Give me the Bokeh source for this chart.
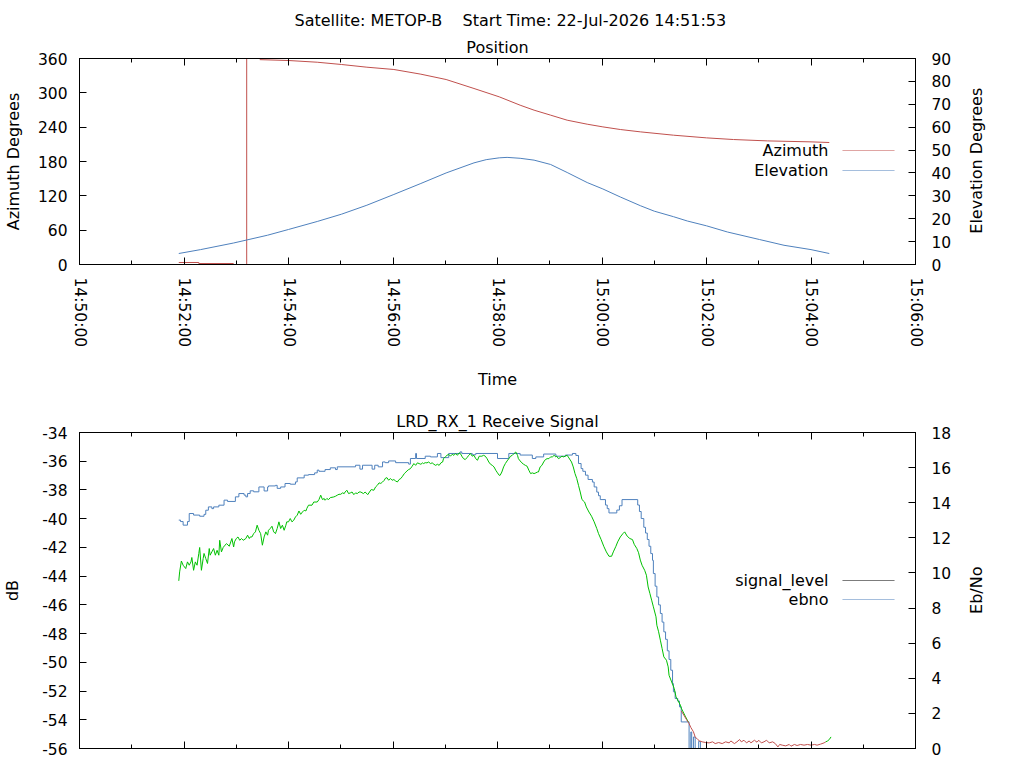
import math
import numpy as np
from bokeh.plotting import figure
from bokeh.layouts import column, row
from bokeh.models import Range1d, LinearAxis, FixedTicker, Title, Label, BoxAnnotation
from bokeh.embed import file_html
from bokeh.resources import INLINE

FONT = "DejaVu Sans"
RED = "#c0504d"
BLUE = "#4f81bd"
GREEN = "#00c000"

# non-breaking spaces keep the wide gap of the original title
main_title = "Satellite: METOP-B\u00a0\u00a0\u00a0\u00a0Start Time: 22-Jul-2026 14:51:53"

# x axis is seconds after 14:50:00
time_ticks = [0, 120, 240, 360, 480, 600, 720, 840, 960]
time_labels = ["14:50:00", "14:52:00", "14:54:00", "14:56:00", "14:58:00",
               "15:00:00", "15:02:00", "15:04:00", "15:06:00"]
time_minor = [60, 180, 300, 420, 540, 660, 780, 900]

az_ticks = [0, 60, 120, 180, 240, 300, 360]
el_ticks = [0, 10, 20, 30, 40, 50, 60, 70, 80, 90]
db_ticks = [-56, -54, -52, -50, -48, -46, -44, -42, -40, -38, -36, -34]
db_labels = ["-56", "-54", "-52", "-50", "-48", "-46", "-44", "-42", "-40",
             "-38", "-36", "-34"]
ebno_ticks = [0, 2, 4, 6, 8, 10, 12, 14, 16, 18]

nan = float("nan")

# position panel
az_t = [114, 137, 137, 177, nan, 192, 192, nan, 207, 240, 273, 301, 330, 361,
        392, 421, 453, 482, 506, 522, 541, 560, 583, 601, 621, 644, 682, 720,
        751, 790, 840, 861]
az_deg = [3.5, 3.5, 1.7, 1.7, nan, 0, 360, nan, 358, 356.5, 353.5, 349.5, 344.8,
          340.8, 332.6, 323.3, 307.6, 293, 278.4, 269.7, 261, 252.2, 245.2, 240.5,
          235.9, 231.8, 226, 221.3, 218.4, 216, 214.3, 213.2]

el_t = [114, 139, 177, 216, 240, 273, 301, 330, 361, 392, 421, 453, 467, 482,
        491, 506, 522, 541, 560, 583, 601, 621, 644, 660, 682, 698, 720, 744,
        781, 809, 840, 861]
el_deg = [4.8, 6.5, 9.4, 12.8, 15.3, 18.8, 22.0, 25.9, 30.6, 35.4, 40.0, 44.4,
          45.8, 46.6, 46.8, 46.4, 45.6, 43.7, 40.2, 35.8, 33.0, 29.5, 25.7, 23.3,
          20.9, 19.0, 16.9, 14.2, 10.9, 8.4, 6.5, 4.8]

# receive signal panel
sig_t = [114, 116, 119, 124, 126, 131, 138, 143, 145, 148, 152, 154, 160, 166,
         170, 179, 183, 189, 191, 193, 196, 200, 206, 212, 216, 217, 225, 227,
         231, 236, 242, 248, 250, 258, 263, 270, 273, 275, 282, 288, 294, 296,
         317, 322, 325, 336, 339, 343, 348, 351, 355, 363, 378, 380, 386, 387,
         397, 403, 411, 415, 424, 437, 439, 451, 455, 480, 493, 506, 520, 524,
         533, 547, 558, 566, 570, 573, 576, 578, 581, 584, 589, 591, 594, 596,
         598, 604, 606, 608, 617, 620, 623, 641, 643, 645, 648, 650, 652, 654,
         656, 658, 659, 661, 663, 665, 667, 669, 671, 673, 675, 677, 679, 681,
         682, 684, 687, 689, 691, 700, 702, 703, 705, 707, 711, 713]
sig_db = [-40.1, -40.2, -40.45, -40.2, -39.64, -39.75, -39.83, -39.7, -39.41,
          -39.18, -39.3, -39.18, -39.06, -38.71, -38.8, -38.48, -38.25, -38.36,
          -38.48, -38.25, -38.06, -38.13, -37.79, -38.07, -37.79, -37.72, -37.68,
          -37.89, -37.79, -37.55, -37.6, -37.44, -37.16, -36.97, -36.93, -36.81,
          -36.62, -36.7, -36.58, -36.46, -36.58, -36.39, -36.28, -36.55, -36.28,
          -36.55, -36.28, -36.39, -36.05, -36.1, -35.98, -36.1, -36.2, -35.81,
          -35.46, -35.81, -35.65, -35.7, -35.46, -35.75, -35.46, -35.35, -35.46,
          -35.55, -35.46, -35.81, -35.46, -35.57, -35.81, -35.7, -35.5, -35.65,
          -35.57, -35.46, -35.6, -36.16, -36.51, -36.7, -36.97, -37.27, -37.45,
          -37.79, -38.15, -38.4, -38.67, -39.05, -39.3, -39.6, -39.4, -39.1,
          -38.67, -39.05, -39.5, -39.99, -40.6, -41.0, -41.45, -41.92, -42.43,
          -42.9, -43.82, -44.7, -45.45, -46.0, -46.6, -47.2, -47.88, -48.4,
          -49.2, -49.8, -50.55, -51.48, -52.05, -52.52, -52.7, -53.1, -54.15,
          -58, -54.85, -58, -55.2, -58, -55.5, -58]

ebno_t = [114, 115, 117, 119, 122, 124, 126, 128, 129, 131, 133, 135, 137, 138,
          140, 142, 143, 145, 147, 149, 150, 152, 154, 156, 158, 160, 161, 163,
          165, 167, 169, 172, 175, 177, 178, 180, 182, 184, 186, 188, 191, 193,
          195, 196, 198, 200, 202, 204, 206, 208, 210, 212, 214, 216, 217, 219,
          221, 223, 225, 227, 229, 231, 233, 235, 237, 238, 240, 242, 244, 246,
          248, 250, 252, 254, 256, 258, 260, 261, 263, 267, 269, 273, 275, 277,
          279, 281, 282, 284, 286, 288, 292, 294, 296, 298, 300, 302, 304, 305,
          307, 309, 311, 313, 315, 317, 319, 321, 323, 326, 328, 331, 333, 335,
          338, 340, 342, 344, 346, 348, 350, 351, 353, 355, 357, 359, 361, 363,
          365, 367, 369, 371, 373, 374, 376, 378, 380, 382, 384, 386, 388, 390,
          392, 394, 395, 397, 399, 401, 403, 405, 407, 409, 411, 413, 415, 417,
          418, 420, 422, 424, 426, 428, 430, 432, 434, 436, 438, 439, 441, 443,
          445, 447, 449, 451, 453, 455, 457, 459, 460, 462, 464, 466, 468, 470,
          472, 474, 476, 478, 480, 482, 483, 485, 487, 489, 491, 493, 495, 497,
          499, 501, 503, 504, 506, 508, 510, 512, 514, 516, 518, 520, 522, 524,
          526, 527, 529, 531, 533, 535, 537, 539, 541, 543, 545, 547, 548, 550,
          552, 554, 556, 558, 560, 562, 565, 567, 569, 571, 573, 575, 577, 580,
          582, 585, 588, 591, 594, 596, 599, 602, 605, 608, 611, 613, 616, 618,
          621, 624, 626, 629, 632, 635, 637, 640, 642, 644, 646, 649, 651, 653,
          655, 657, 659, 662, 663, 665, 667, 669, 671, 674, 676, 677, 680, 683,
          685, 687, 690, 691, 696, 699]
ebno = [9.55, 10.06, 10.68, 10.44, 10.25, 10.63, 10.44, 10.63, 10.88, 10.15,
        10.63, 10.44, 11.11, 11.45, 10.15, 10.82, 11.11, 10.82, 10.54, 11.39,
        11.01, 11.2, 11.39, 11.01, 11.29, 11.01, 11.86, 11.2, 11.45, 11.58,
        11.67, 11.52, 11.96, 11.48, 11.77, 11.96, 12.05, 11.86, 11.96, 11.86,
        11.96, 12.15, 11.96, 12.05, 12.05, 12.24, 12.34, 12.72, 12.43, 12.24,
        11.58, 12.05, 12.34, 12.15, 12.43, 12.53, 12.66, 12.34, 12.24, 12.53,
        12.91, 12.53, 12.72, 12.43, 12.72, 12.91, 12.91, 13.1, 12.91, 13.0,
        13.19, 13.29, 13.53, 13.34, 13.47, 13.57, 13.53, 13.67, 13.86, 13.86,
        14.04, 14.04, 14.18, 14.43, 14.18, 14.24, 14.14, 14.24, 14.18, 14.29,
        14.33, 14.37, 14.43, 14.48, 14.48, 14.56, 14.52, 14.61, 14.71, 14.52,
        14.56, 14.61, 14.46, 14.56, 14.52, 14.61, 14.61, 14.52, 14.61, 14.46,
        14.61, 14.75, 14.71, 14.9, 14.99, 15.13, 15.1, 15.18, 15.28, 15.38,
        15.43, 15.28, 15.38, 15.28, 15.32, 15.24, 15.18, 15.32, 15.38, 15.51,
        15.66, 15.7, 15.81, 15.89, 15.94, 16.08, 16.23, 16.13, 16.27, 16.23,
        16.19, 16.27, 16.23, 16.28, 16.27, 16.32, 16.23, 16.27, 16.19, 16.13,
        16.19, 16.13, 16.27, 16.32, 16.51, 16.61, 16.7, 16.76, 16.65, 16.76,
        16.7, 16.8, 16.7, 16.84, 16.76, 16.65, 16.51, 16.46, 16.57, 16.7, 16.8,
        16.65, 16.7, 16.51, 16.42, 16.65, 16.65, 16.65, 16.7, 16.65, 16.51,
        16.32, 16.19, 16.13, 16.04, 15.85, 15.7, 15.56, 15.56, 15.75, 16.04,
        16.23, 16.38, 16.51, 16.65, 16.7, 16.8, 16.89, 16.7, 16.51, 16.38,
        16.27, 16.19, 16.13, 16.08, 15.85, 15.66, 15.7, 15.66, 15.7, 15.75,
        15.75, 16.04, 16.13, 16.32, 16.46, 16.51, 16.51, 16.61, 16.61, 16.7,
        16.61, 16.65, 16.51, 16.57, 16.65, 16.61, 16.66, 16.7, 16.55, 16.32,
        16.04, 15.66, 15.38, 14.99, 14.61, 14.18, 14.04, 13.76, 13.47, 13.23,
        12.91, 12.53, 12.24, 11.9, 11.52, 11.2, 10.95, 10.95, 11.2, 11.52,
        11.77, 12.05, 12.24, 12.34, 12.09, 11.96, 11.9, 11.63, 11.39, 11.15,
        10.73, 10.44, 10.15, 9.87, 9.2, 8.83, 8.45, 8.07, 7.5, 7.02, 6.65,
        6.17, 5.7, 5.22, 5.03, 4.65, 4.17, 3.79, 3.41, 2.94, 2.75, 2.47, 2.3,
        1.8, 1.52]

# ebno after lock is lost (drawn red), then the last locked samples
ebno_lost_t = [691, 694, 697, 700, 702, 705, 707, 710, 712, 715, 719, 723, 727,
               730, 734, 738, 742, 746, 748, 752, 755, 758, 760, 763, 766, 769,
               771, 775, 778, 780, 783, 786, 789, 792, 796, 799, 802, 804, 807,
               811, 815, 817, 821, 824, 828, 832, 836, 840, 844, 847, 851, 855,
               857]
ebno_lost = [2.14, 1.9, 1.65, 1.42, 1.2, 0.95, 0.66, 0.51, 0.43, 0.38, 0.34,
             0.32, 0.38, 0.28, 0.34, 0.28, 0.38, 0.32, 0.43, 0.28, 0.38, 0.51,
             0.38, 0.47, 0.32, 0.43, 0.32, 0.47, 0.36, 0.47, 0.32, 0.38, 0.47,
             0.32, 0.38, 0.28, 0.09, 0.23, 0.19, 0.15, 0.23, 0.13, 0.23, 0.17,
             0.23, 0.19, 0.23, 0.19, 0.23, 0.19, 0.25, 0.32, 0.38]
ebno_tail_t = [857, 859, 861, 863]
ebno_tail = [0.38, 0.43, 0.51, 0.66]


def style_axis(ax, ticks, minor=None, label=""):
    ax.ticker = FixedTicker(ticks=ticks, minor_ticks=minor or [])
    ax.axis_label = label
    ax.axis_line_color = "black"
    ax.major_tick_line_color = "black"
    ax.major_tick_in = 7
    ax.major_tick_out = 0
    ax.minor_tick_line_color = "black" if minor else None
    ax.minor_tick_in = 4
    ax.minor_tick_out = 0
    ax.major_label_text_font = FONT
    ax.major_label_text_font_size = "15.5px"
    ax.major_label_text_color = "black"
    ax.axis_label_text_font = FONT
    ax.axis_label_text_font_size = "16px"
    ax.axis_label_text_font_style = "normal"
    ax.axis_label_text_color = "black"


def hide_labels(ax):
    ax.major_label_text_font_size = "0px"
    ax.major_label_text_color = None
    ax.major_label_standoff = 0


def make_panel(height, title, y_range, y2_name, y2_range, y2_ticks, top, bottom):
    p = figure(width=960, height=height, x_range=Range1d(0, 960), y_range=y_range,
               output_backend="svg", toolbar_location=None, title=None,
               min_border_left=79, min_border_right=45,
               min_border_top=top, min_border_bottom=bottom)
    p.grid.visible = False
    p.outline_line_color = "black"
    p.outline_line_alpha = 1.0
    p.extra_y_ranges = {y2_name: y2_range}
    right_axis = LinearAxis(y_range_name=y2_name)
    style_axis(right_axis, y2_ticks)
    right_axis.major_label_standoff = 16
    p.add_layout(right_axis, "right")
    top_axis = LinearAxis()
    style_axis(top_axis, time_ticks, time_minor)
    hide_labels(top_axis)
    p.add_layout(top_axis, "above")
    p.add_layout(Title(text=title, align="center", text_font=FONT,
                       text_font_size="16px", text_font_style="normal",
                       text_color="black", standoff=4), "above")
    return p


def side_label(height, text, y):
    # narrow strip right of a panel carrying its right-hand axis title;
    # the row lines its frame up with the panel's, y counts from that frame's bottom
    s = figure(width=64, height=height, x_range=Range1d(0, 1), y_range=Range1d(0, 1),
               output_backend="svg", toolbar_location=None, title=None,
               x_axis_location=None, y_axis_location=None, min_border=0)
    s.grid.visible = False
    s.outline_line_color = None
    s.add_layout(Label(x=16, y=y, x_units="screen", y_units="screen", text=text,
                       angle=math.pi / 2, text_align="center", text_baseline="middle",
                       text_font=FONT, text_font_size="16px", text_color="black"))
    return s


def legend_entry(p, text, y, color):
    p.add_layout(Label(x=749, y=y, x_units="screen", y_units="screen", text=text,
                       text_align="right", text_baseline="middle", text_font=FONT,
                       text_font_size="16px", text_color="black"))
    p.add_layout(BoxAnnotation(left=763, right=815, bottom=y, top=y,
                               left_units="screen", right_units="screen",
                               bottom_units="screen", top_units="screen",
                               fill_color=color, fill_alpha=1.0,
                               line_color=color, line_width=1))


# ---- Position ----
p1 = make_panel(400, "Position", Range1d(0, 360), "el", Range1d(0, 90), el_ticks,
                58, 136)
p1.add_layout(Title(text=main_title, align="left", offset=215, text_font=FONT,
                    text_font_size="16px", text_font_style="normal",
                    text_color="black", standoff=7), "above")
style_axis(p1.below[0], time_ticks, time_minor, "Time")
p1.below[0].major_label_overrides = dict(zip(time_ticks, time_labels))
p1.below[0].major_label_orientation = -math.pi / 2
p1.below[0].major_label_standoff = 13
p1.below[0].axis_label_standoff = 20
style_axis(p1.left[0], az_ticks, None, "Azimuth Degrees")
p1.left[0].major_label_standoff = 12
p1.left[0].axis_label_standoff = 12

p1.line(np.array(az_t), np.array(az_deg), line_color=RED, line_width=1)
p1.line(el_t, el_deg, line_color=BLUE, line_width=1, y_range_name="el")
legend_entry(p1, "Azimuth", 114, RED)
legend_entry(p1, "Elevation", 94, BLUE)

# ---- Receive signal ----
p2 = make_panel(368, "LRD_RX_1 Receive Signal", Range1d(-56, -34), "ebno",
                Range1d(0, 18), ebno_ticks, 32, 20)
style_axis(p2.below[0], time_ticks, time_minor)
hide_labels(p2.below[0])
style_axis(p2.left[0], db_ticks, None, "dB")
p2.left[0].major_label_overrides = dict(zip(db_ticks, db_labels))
p2.left[0].major_label_standoff = 12
p2.left[0].axis_label_standoff = 17

p2.step(sig_t, sig_db, mode="after", line_color=BLUE, line_width=1)
p2.line(ebno_t, ebno, line_color=GREEN, line_width=1, y_range_name="ebno")
p2.line(ebno_lost_t, ebno_lost, line_color=RED, line_width=1, y_range_name="ebno")
p2.line(ebno_tail_t, ebno_tail, line_color=GREEN, line_width=1, y_range_name="ebno")
legend_entry(p2, "signal_level", 168, "black")
legend_entry(p2, "ebno", 149, BLUE)

layout = column(row(p1, side_label(400, "Elevation Degrees", 103.8)),
                row(p2, side_label(368, "Eb/No", 158.3)))
open("out.html", "w").write(file_html(layout, INLINE))
